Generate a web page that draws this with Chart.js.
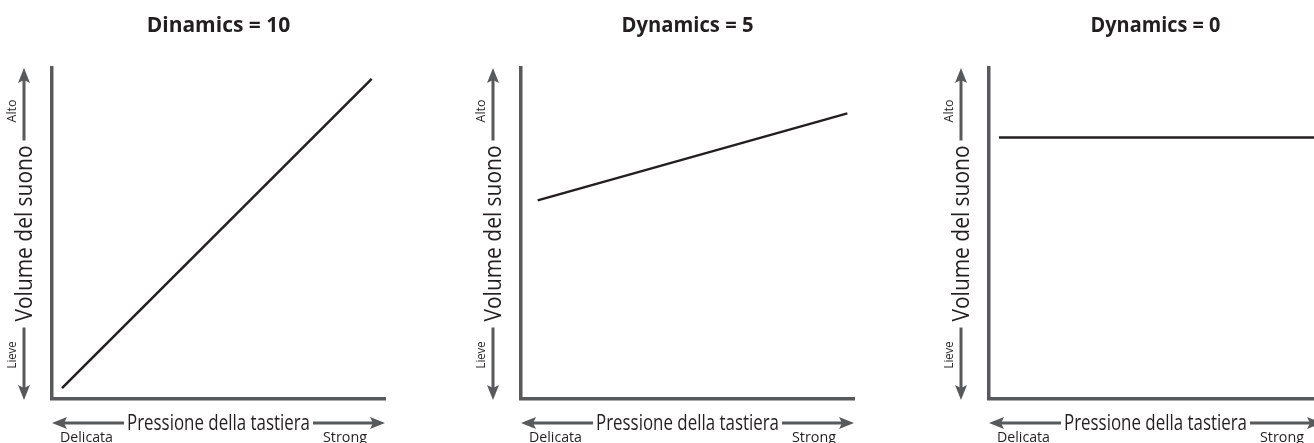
<!DOCTYPE html>
<html>
<head>
<meta charset="utf-8">
<script src="https://cdn.jsdelivr.net/npm/chart.js@4/dist/chart.umd.min.js"></script>
<style>
  html, body { margin: 0; padding: 0; background: #ffffff; }
  body { position: relative; width: 1314px; height: 443px; overflow: hidden; }
  canvas { position: absolute; top: 0; }
</style>
</head>
<body>
<canvas id="dyn10" width="469" height="443" style="left:0px"></canvas>
<canvas id="dyn5" width="469" height="443" style="left:469px"></canvas>
<canvas id="dyn0" width="469" height="443" style="left:937px"></canvas>
<script>
// Panel titles
const panelTitles = ['Dinamics = 10', 'Dynamics = 5', 'Dynamics = 0'];

// Key pressure (x, 0-100) and resulting volume (y, 0-100) for each dynamics setting
const pressure10 = [3, 96];
const volume10 = [3.3, 96.7];
const pressure5 = [5, 98];
const volume5 = [60, 86.3];
const pressure0 = [3, 98];
const volume0 = [79, 79];

// Axis captions
const yAxisLabel = 'Volume del suono';
const yHighLabel = 'Alto';
const yLowLabel = 'Lieve';
const xAxisLabel = 'Pressione della tastiera';
const xLowLabel = 'Delicata';
const xHighLabel = 'Strong';

const AXIS_GREY = '#58595b';
const INK = '#231f20';

function drawArrow(ctx, x1, y1, x2, y2) {
  const headLen = 13, headHalf = 6;
  const ang = Math.atan2(y2 - y1, x2 - x1);
  const bx = x2 - headLen * Math.cos(ang);
  const by = y2 - headLen * Math.sin(ang);
  ctx.save();
  ctx.strokeStyle = AXIS_GREY;
  ctx.fillStyle = AXIS_GREY;
  ctx.lineWidth = 3;
  ctx.beginPath();
  ctx.moveTo(x1, y1);
  ctx.lineTo(bx + 2 * Math.cos(ang), by + 2 * Math.sin(ang));
  ctx.stroke();
  ctx.beginPath();
  ctx.moveTo(x2, y2);
  ctx.lineTo(bx - headHalf * Math.sin(ang) - 2 * Math.cos(ang), by + headHalf * Math.cos(ang) - 2 * Math.sin(ang));
  ctx.lineTo(bx + 1 * Math.cos(ang), by + 1 * Math.sin(ang));
  ctx.lineTo(bx + headHalf * Math.sin(ang) - 2 * Math.cos(ang), by - headHalf * Math.cos(ang) - 2 * Math.sin(ang));
  ctx.closePath();
  ctx.fill();
  ctx.restore();
}

// Draws the title, the axis captions and the direction arrows around the plot area
const axisDecor = {
  id: 'axisDecor',
  afterDraw(chart, args, opts) {
    const { ctx, chartArea: a } = chart;
    const cx = (a.left + a.right) / 2;
    const cy = (a.top + a.bottom) / 2;
    ctx.save();
    ctx.fillStyle = INK;

    // title
    ctx.font = 'bold 21px "Open Sans", sans-serif';
    ctx.textAlign = 'center';
    ctx.textBaseline = 'alphabetic';
    ctx.fillText(opts.title, cx, 32, opts.titleWidth);

    // vertical caption with arrows
    const ax = a.left - 28;
    const yLen = 176;
    ctx.save();
    ctx.translate(ax, cy);
    ctx.rotate(-Math.PI / 2);
    ctx.font = '24px "Open Sans", sans-serif';
    ctx.textAlign = 'center';
    ctx.textBaseline = 'middle';
    ctx.fillText(yAxisLabel, 0, 1, yLen);
    ctx.restore();
    drawArrow(ctx, ax, cy - yLen / 2 - 5, ax, a.top);
    drawArrow(ctx, ax, cy + yLen / 2 + 6, ax, a.bottom + 1);

    ctx.font = '13px "Open Sans", sans-serif';
    ctx.textAlign = 'center';
    ctx.textBaseline = 'middle';
    ctx.save();
    ctx.translate(ax - 12, a.top + 43);
    ctx.rotate(-Math.PI / 2);
    ctx.fillText(yHighLabel, 0, 0, 23);
    ctx.restore();
    ctx.save();
    ctx.translate(ax - 12, a.bottom - 44);
    ctx.rotate(-Math.PI / 2);
    ctx.fillText(yLowLabel, 0, 0, 27);
    ctx.restore();

    // horizontal caption with arrows
    const xLen = 183;
    const xy = a.bottom + 24;
    ctx.font = '22px "Open Sans", sans-serif';
    ctx.textAlign = 'center';
    ctx.textBaseline = 'alphabetic';
    ctx.fillText(xAxisLabel, cx, xy + 7, xLen);
    drawArrow(ctx, cx - xLen / 2 - 3, xy, a.left, xy);
    drawArrow(ctx, cx + xLen / 2 + 3, xy, a.right, xy);

    ctx.font = '15px "Open Sans", sans-serif';
    ctx.textAlign = 'left';
    ctx.fillText(xLowLabel, a.left + 8, a.bottom + 43, 53);
    ctx.textAlign = 'right';
    ctx.fillText(xHighLabel, a.left + 315, a.bottom + 43, 44);
    ctx.restore();
  }
};

function makePanel(id, title, titleWidth, xs, ys) {
  return new Chart(document.getElementById(id), {
    type: 'line',
    data: {
      datasets: [{
        data: xs.map((x, i) => ({ x: x, y: ys[i] })),
        borderColor: INK,
        borderWidth: 2.5,
        pointRadius: 0,
        tension: 0,
        fill: false
      }]
    },
    options: {
      responsive: false,
      animation: false,
      layout: { padding: { left: 52, right: 84, top: 68, bottom: 44 } },
      scales: {
        x: {
          type: 'linear', min: 0, max: 100,
          grid: { display: false, drawTicks: false },
          ticks: { display: false },
          border: { display: true, color: AXIS_GREY, width: 3.5 }
        },
        y: {
          type: 'linear', min: 0, max: 100,
          grid: { display: false, drawTicks: false },
          ticks: { display: false },
          border: { display: true, color: AXIS_GREY, width: 3.5 }
        }
      },
      plugins: {
        legend: { display: false },
        tooltip: { enabled: false },
        title: { display: false },
        axisDecor: { title: title, titleWidth: titleWidth }
      }
    },
    plugins: [axisDecor]
  });
}

makePanel('dyn10', panelTitles[0], 147, pressure10, volume10);
makePanel('dyn5', panelTitles[1], 132, pressure5, volume5);
makePanel('dyn0', panelTitles[2], 130, pressure0, volume0);
</script>
</body>
</html>
